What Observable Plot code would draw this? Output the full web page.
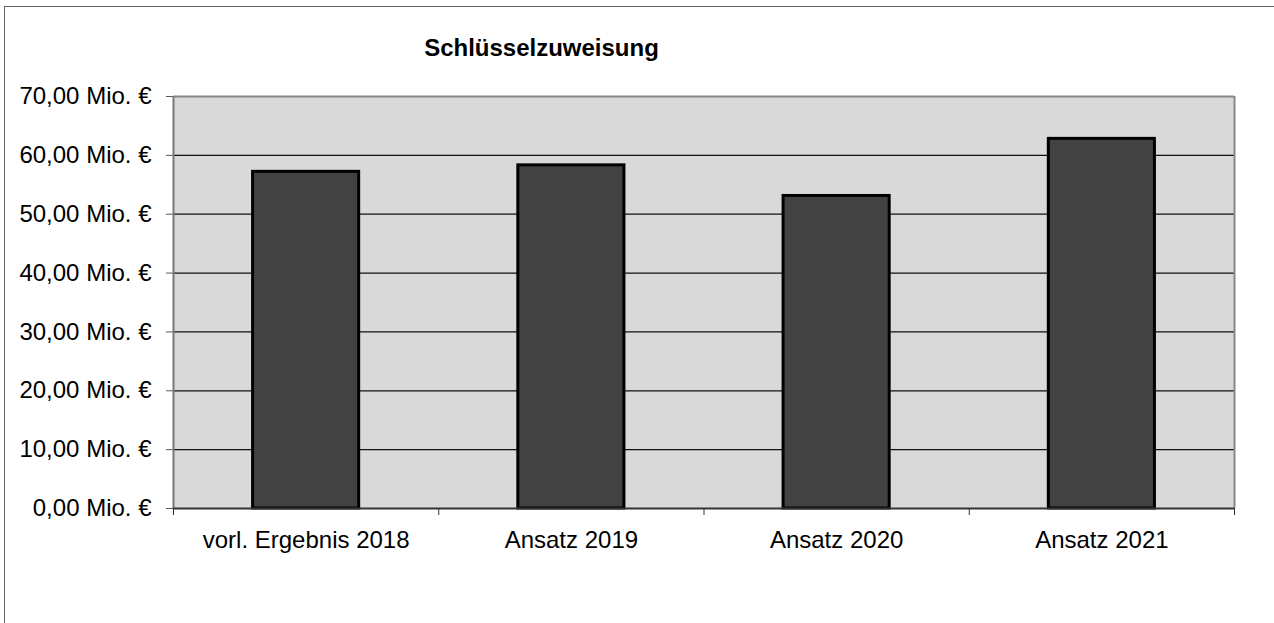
<!DOCTYPE html>
<html><head><meta charset="utf-8">
<script src="https://cdn.jsdelivr.net/npm/d3@7"></script>
<script src="https://cdn.jsdelivr.net/npm/@observablehq/plot@0.6"></script>
<style>
body{margin:0;background:#fff;font-family:"Liberation Sans",Arial,sans-serif;}
#wrap{position:relative;width:1274px;height:623px;overflow:hidden;}
#border{position:absolute;left:4px;top:6px;width:1400px;height:800px;border:1px solid #666;box-sizing:border-box;}
#chart{position:absolute;left:0;top:0;}
#title{position:absolute;left:0;width:1083px;top:36px;text-align:center;font-weight:bold;font-size:24px;line-height:1;}
</style></head>
<body>
<div id="wrap">
<div id="border"></div>
<div id="chart"></div>
<div id="title">Schlüsselzuweisung</div>
</div>
<script>
const categories = ["vorl. Ergebnis 2018", "Ansatz 2019", "Ansatz 2020", "Ansatz 2021"];
const values = [57.2, 58.3, 53.1, 62.8];
const yTicks = [0, 10, 20, 30, 40, 50, 60, 70];
const gridTicks = [10, 20, 30, 40, 50, 60];
const boundaryTicks = [0, 1, 2, 3, 4];

const data = categories.map((c, i) => ({c, i, v: values[i]}));
const fmt = d => d.toFixed(2).replace(".", ",") + " Mio. €";
const barPad = 0.3;

const plot = Plot.plot({
  width: 1274, height: 623,
  marginLeft: 173, marginRight: 40, marginTop: 96, marginBottom: 115,
  x: {domain: [0, categories.length], label: null},
  y: {domain: [0, 70], label: null},
  style: {fontFamily: '"Liberation Sans", Arial, sans-serif', fontSize: "24px", background: "transparent", color: "#000"},
  marks: [
    Plot.frame({fill: "#d9d9d9", stroke: "none"}),
    Plot.gridY(gridTicks, {stroke: "#111", strokeOpacity: 1, strokeWidth: 1.2}),
    Plot.rect(data, {x1: d => d.i + barPad, x2: d => d.i + 1 - barPad, y1: 0, y2: "v", fill: "#424242", stroke: "#000", strokeWidth: 3}),
    Plot.ruleY([70], {stroke: "#888", strokeWidth: 2}),
    Plot.ruleX([categories.length], {stroke: "#888", strokeWidth: 2}),
    Plot.axisY({ticks: yTicks, tickFormat: fmt, tickSize: 7, tickPadding: 15, stroke: "#555", strokeOpacity: 1}),
    Plot.ruleX([0], {stroke: "#777", strokeWidth: 2}),
    Plot.ruleY([0], {stroke: "#333", strokeWidth: 2}),
    Plot.axisX({ticks: boundaryTicks, tickSize: 7, tickFormat: () => "", stroke: "#333", strokeOpacity: 1}),
    Plot.axisX({ticks: categories.map((_, i) => i + 0.5), tickSize: 0, tickPadding: 22, tickFormat: t => categories[Math.floor(t)]})
  ]
});
document.getElementById("chart").appendChild(plot);
</script>
</body></html>
